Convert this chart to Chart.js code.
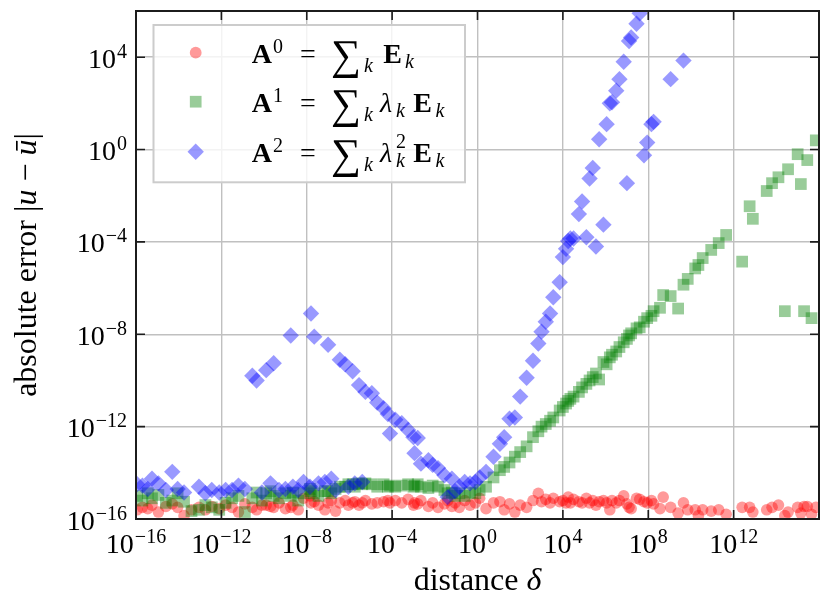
<!DOCTYPE html>
<html>
<head>
<meta charset="utf-8">
<script src="https://cdn.jsdelivr.net/npm/chart.js@4.4.1/dist/chart.umd.min.js"></script>
<style>
html,body{margin:0;padding:0;background:#ffffff;}
canvas{display:block;}
</style>
</head>
<body>
<canvas id="c" width="830" height="607"></canvas>
<script>
// ---------- data ----------
const distance = [
 1.12e-16, 2.0e-16, 3.55e-16, 5.62e-16, 1.12e-15, 2.51e-15, 5.01e-15, 8.91e-15, 1.78e-14, 3.98e-14,
 8.91e-14, 1.78e-13, 3.55e-13, 7.94e-13, 1.58e-12, 3.16e-12, 6.31e-12, 1.26e-11, 2.82e-11, 4.47e-11,
 7.94e-11, 1.26e-10, 2.0e-10, 2.82e-10, 5.01e-10, 1e-9, 1.78e-9, 2.24e-9, 3.98e-9, 7.08e-9,
 1.41e-8, 1.58e-8, 2.24e-8, 3.55e-8, 7.08e-8, 1e-7, 1.41e-7, 2.24e-7, 3.55e-7, 6.31e-7,
 8.91e-7, 1.41e-6, 1.78e-6, 2.82e-6, 3.98e-6, 5.62e-6, 1.12e-5, 2.0e-5, 3.98e-5, 6.31e-5,
 7.94e-5, 1.41e-4, 2.82e-4, 5.62e-4, 1e-3, 1.12e-3, 1.58e-3, 2.24e-3, 5.01e-3, 7.94e-3,
 1.41e-2, 2.82e-2, 3.98e-2, 6.31e-2, 8.91e-2, 0.141, 0.251, 0.447, 0.794, 1.26,
 2.51, 5.62, 11.2, 17.8, 31.6, 56.2, 100, 200, 398, 708,
 1000, 1580, 2510, 3550, 7080, 1e4, 1.41e4, 1.78e4, 2.24e4, 3.16e4,
 5.62e4, 7.94e4, 1.26e5, 1.78e5, 2.51e5, 3.55e5, 5.01e5, 7.94e5, 1.12e6, 1.58e6,
 2.0e6, 3.16e6, 4.47e6, 7.08e6, 1e7, 1.26e7, 1.58e7, 2.82e7, 3.98e7, 6.31e7,
 8.91e7, 1.41e8, 1.78e8, 3.55e8, 5.01e8, 1.12e9, 2.51e9, 4.47e9, 7.08e9, 1.58e10,
 2.24e10, 3.55e10, 8.91e10, 2.0e11, 4.47e11, 2.51e12, 5.62e12, 7.94e12, 3.55e13, 6.31e13,
 1.26e14, 2.51e14, 3.55e14, 1e15, 1.41e15, 2.0e15, 2.82e15, 4.47e15, 7.08e15
];

// A^0 = sum_k E_k
const errA0 = [
 2.5e-16, 3.2e-16, 2.8e-16, 4.0e-16, 2.0e-16, 3.5e-16, 4.5e-16, 3.2e-16, 1.4e-16, 2.5e-16,
 3.2e-16, 2.5e-16, 3.5e-16, 2.8e-16, 4.0e-16, 3.2e-16, 2.0e-16, 4.5e-16, 3.2e-16, 2.5e-16,
 4.0e-16, 4.0e-16, 3.5e-16, 3.2e-16, 5.0e-16, 2.8e-16, 3.2e-16, 4.0e-16, 2.5e-16, 7.9e-16,
 1.0e-15, 5.0e-16, 5.6e-16, 4.0e-16, 2.5e-16, 5.0e-16, 6.3e-16, 2.2e-16, 5.0e-16, 6.3e-16,
 4.0e-16, 5.0e-16, 5.6e-16, 4.0e-16, 5.0e-16, 6.3e-16, 4.5e-16, 5.0e-16, 5.6e-16, 6.3e-16,
 5.0e-16, 6.3e-16, 5.0e-16, 7.1e-16, 4.0e-16, 5.0e-16, 4.5e-16, 6.3e-16, 3.5e-16, 5.0e-16,
 3.2e-16, 4.5e-16, 6.3e-16, 3.5e-16, 5.0e-16, 3.2e-16, 6.3e-16, 4.0e-16, 5.0e-16, 7.9e-16,
 2.8e-16, 5.0e-16, 5.6e-16, 2.5e-16, 4.5e-16, 2.0e-16, 4.0e-16, 3.2e-16, 6.3e-16, 1.3e-15,
 5.6e-16, 7.1e-16, 5.0e-16, 7.9e-16, 5.6e-16, 6.3e-16, 5.0e-16, 8.9e-16, 5.0e-16, 7.1e-16,
 5.6e-16, 5.0e-16, 7.9e-16, 5.0e-16, 6.3e-16, 4.0e-16, 5.6e-16, 6.3e-16, 5.0e-16, 2.5e-16,
 6.3e-16, 5.0e-16, 6.3e-16, 1.0e-15, 4.5e-16, 3.2e-16, 2.8e-16, 7.9e-16, 7.1e-16, 5.6e-16,
 5.0e-16, 6.3e-16, 4.5e-16, 2.8e-16, 8.9e-16, 3.2e-16, 1.8e-16, 5.0e-16, 2.5e-16, 2.5e-16,
 1.4e-16, 2.5e-16, 2.2e-16, 2.5e-16, 1.6e-16, 3.2e-16, 3.2e-16, 2.0e-16, 2.5e-16, 3.2e-16,
 4.0e-16, 1.4e-16, 2.0e-16, 3.2e-16, 1.8e-16, 3.5e-16, 3.5e-16, 1.6e-16, 3.2e-16
];

// A^1 = sum_k lambda_k E_k
const errA1 = [
 1.0e-15, 6.3e-16, 1.3e-15, 7.9e-16, 1.1e-15, 5.0e-16, 6.3e-16, 1.3e-15, 5.6e-16, 2.2e-16,
 2.5e-16, 4.0e-16, 3.2e-16, 2.5e-16, 5.0e-16, 7.9e-16, 1.0e-15, 2.0e-16, 7.9e-16, 1.4e-15,
 6.3e-16, 1.3e-15, 1.6e-15, 1.0e-15, 7.9e-16, 1.3e-15, 1.0e-15, 1.4e-15, 6.3e-16, 1.3e-15,
 2.0e-15, 1.6e-15, 1.3e-15, 1.0e-15, 1.6e-15, 1.6e-15, 1.3e-15, 2.0e-15, 2.5e-15, 2.5e-15,
 3.2e-15, 3.2e-15, 2.5e-15, 3.5e-15, 3.2e-15, 3.5e-15, 3.2e-15, 2.5e-15, 3.2e-15, 2.5e-15,
 2.8e-15, 2.5e-15, 2.8e-15, 3.2e-15, 2.5e-15, 2.8e-15, 3.2e-15, 2.5e-15, 2.2e-15, 2.8e-15,
 2.5e-15, 1.8e-15, 1.3e-15, 1.4e-15, 1.0e-15, 1.3e-15, 1.0e-15, 1.4e-15, 1.3e-15, 1.8e-15,
 2.5e-15, 6.3e-15, 1.3e-14, 1.8e-14, 2.8e-14, 5.0e-14, 7.9e-14, 1.4e-13, 3.5e-13, 6.3e-13,
 1.0e-12, 1.3e-12, 1.8e-12, 2.5e-12, 5.0e-12, 7.1e-12, 1.0e-11, 1.3e-11, 1.6e-11, 2.0e-11,
 3.2e-11, 5.0e-11, 7.1e-11, 1.0e-10, 1.4e-10, 2.0e-10, 1.1e-10, 6.3e-10, 5.0e-10, 1.0e-9,
 1.3e-9, 1.8e-9, 2.8e-9, 4.5e-9, 6.3e-9, 8.9e-9, 1.1e-8, 1.8e-8, 2.0e-8, 3.5e-8,
 5.0e-8, 6.3e-8, 1.0e-7, 1.4e-7, 5.0e-7, 4.5e-7, 1.3e-7, 1.4e-6, 2.5e-6, 7.1e-6,
 1.0e-5, 2.0e-5, 4.5e-5, 8.9e-5, 2.0e-4, 1.4e-5, 3.5e-3, 1.0e-3, 1.6e-2, 3.5e-2,
 6.3e-2, 1.0e-7, 0.14, 0.63, 3.2e-2, 1.0e-7, 0.35, 5.0e-8, 2.5
];

// A^2 = sum_k lambda_k^2 E_k   (null = above the visible range)
const errA2 = [
 3.2e-15, 2.8e-15, 2.0e-15, 5.6e-15, 3.5e-15, 1.8e-15, 1.1e-14, 2.0e-15, 1.4e-15, null,
 2.5e-15, 1.3e-15, 1.8e-15, 1.4e-15, 1.8e-15, 1.8e-15, 2.8e-15, 2.0e-15, 1.6e-10, 1.0e-10,
 1.4e-15, 2.8e-10, 3.5e-15, 5.6e-10, 1.8e-15, 2.0e-15, 8.9e-9, 2.5e-15, 1.8e-15, 4.0e-15,
 2.5e-15, 7.9e-8, 7.9e-9, 3.5e-15, 4.0e-15, 3.5e-9, 5.6e-15, 1.8e-15, 7.9e-10, 5.0e-10,
 2.5e-15, 2.5e-10, 3.5e-15, 6.3e-11, 4.0e-15, 3.2e-11, 2.8e-11, 1.1e-11, 6.3e-12, 3.5e-12,
 5.0e-13, 2.0e-12, 1.4e-12, 7.1e-13, 3.5e-13, 7.1e-14, 3.2e-13, 2.5e-14, 3.5e-14, 2.2e-14,
 1.6e-14, 7.9e-15, 8.9e-16, 5.6e-15, 1.6e-15, 2.5e-15, 4.0e-15, 3.5e-15, 4.0e-15, 6.3e-15,
 1.1e-14, 5.0e-14, 1.8e-13, 3.5e-13, 2.2e-12, 2.5e-12, 2.0e-11, 1.3e-10, 7.1e-10, 4.0e-9,
 1.3e-8, 3.5e-8, 7.9e-8, 4.0e-7, 1.8e-6, 2.2e-5, 5.0e-5, 1.1e-4, 1.4e-4, 1.4e-4,
 1.6e-3, 5.6e-3, 1.6e-4, 5.6e-2, 0.16, 6.3e-5, 2.8, 5.6e-4, 12.6, 100,
 112, 355, 1120, 6300, 3.5e-2, 5.0e4, 7.1e4, 2.8e5, 7.9e5, 0.56,
 2.0, 12.6, 15.8, null, null, 1120, null, 7100, null, null,
 null, null, null, null, null, null, null, null, null, null,
 null, null, null, null, null, null, null, null, null
];

const xTickValues = [1e-16, 1e-12, 1e-8, 1e-4, 1e0, 1e4, 1e8, 1e12];
const xTickExps   = ['\u221216', '\u221212', '\u22128', '\u22124', '0', '4', '8', '12'];
const yTickValues = [1e-16, 1e-12, 1e-8, 1e-4, 1e0, 1e4];
const yTickExps   = ['\u221216', '\u221212', '\u22128', '\u22124', '0', '4'];

const seriesColors = ['rgba(255,0,0,0.4)', 'rgba(0,128,0,0.4)', 'rgba(0,0,255,0.4)'];

// ---------- helpers ----------
const SERIF = '"Liberation Serif","DejaVu Serif",serif';
const F = (size, style) => (style ? style + ' ' : '') + size + 'px ' + SERIF;

function toPoints(ys) {
  const out = [];
  for (let i = 0; i < distance.length; i++) {
    if (ys[i] !== null) out.push({ x: distance[i], y: ys[i] });
  }
  return out;
}

function runsWidth(ctx, runs) {
  let w = 0;
  runs.forEach(r => { ctx.font = r.f; r.w = ctx.measureText(r.t).width; w += r.w + (r.gap || 0); });
  return w;
}
function drawRuns(ctx, runs, x, y, align) {
  const total = runsWidth(ctx, runs);
  let cx = align === 'center' ? x - total / 2 : (align === 'right' ? x - total : x);
  runs.forEach(r => {
    ctx.font = r.f;
    ctx.fillText(r.t, cx, y + (r.dy || 0));
    cx += r.w + (r.gap || 0);
  });
}
function seg(ctx, t, f, x, y) { ctx.font = f; ctx.fillText(t, x, y); }

// ---------- decoration plugin ----------
const decor = {
  id: 'decor',
  afterDraw(chart) {
    const { ctx, chartArea: a, scales } = chart;
    const xs = scales.x, ys = scales.y;
    ctx.save();

    // inward tick marks on all four sides
    ctx.strokeStyle = '#1c1c1c';
    ctx.lineWidth = 1.6;
    ctx.beginPath();
    xTickValues.forEach(v => {
      const px = xs.getPixelForValue(v);
      ctx.moveTo(px, a.bottom); ctx.lineTo(px, a.bottom - 9);
      ctx.moveTo(px, a.top); ctx.lineTo(px, a.top + 9);
    });
    yTickValues.forEach(v => {
      const py = ys.getPixelForValue(v);
      ctx.moveTo(a.left, py); ctx.lineTo(a.left + 9, py);
      ctx.moveTo(a.right, py); ctx.lineTo(a.right - 9, py);
    });
    ctx.stroke();

    // frame
    ctx.lineWidth = 2;
    ctx.strokeRect(a.left, a.top, a.right - a.left, a.bottom - a.top);

    // tick labels
    ctx.fillStyle = '#000';
    ctx.textBaseline = 'alphabetic';
    ctx.textAlign = 'left';
    xTickValues.forEach((v, i) => {
      const px = xs.getPixelForValue(v);
      drawRuns(ctx, [
        { t: '10', f: F(28), gap: 1 },
        { t: xTickExps[i], f: F(20), dy: -10 }
      ], px, 553, 'center');
    });
    yTickValues.forEach((v, i) => {
      const py = ys.getPixelForValue(v);
      drawRuns(ctx, [
        { t: '10', f: F(28), gap: 1 },
        { t: yTickExps[i], f: F(20), dy: -10 }
      ], 127, py + 10.5, 'right');
    });

    // axis titles
    drawRuns(ctx, [
      { t: 'distance ', f: F(32) },
      { t: '\u03b4', f: F(32, 'italic') }
    ], (a.left + a.right) / 2, 590, 'center');

    ctx.save();
    ctx.translate(36, (a.top + a.bottom) / 2);
    ctx.rotate(-Math.PI / 2);
    drawRuns(ctx, [
      { t: 'absolute error ', f: F(32) },
      { t: '|', f: F(32) },
      { t: 'u', f: F(32, 'italic') },
      { t: ' \u2212 ', f: F(32) },
      { t: '\u016b', f: F(32, 'italic') },
      { t: '|', f: F(32) }
    ], 0, 0, 'center');
    ctx.restore();

    // legend box
    const L = { x0: 153.5, y0: 25, x1: 465, y1: 182.3 };
    ctx.fillStyle = 'rgba(255,255,255,0.8)';
    ctx.fillRect(L.x0, L.y0, L.x1 - L.x0, L.y1 - L.y0);
    ctx.strokeStyle = '#cccccc';
    ctx.lineWidth = 2;
    ctx.strokeRect(L.x0, L.y0, L.x1 - L.x0, L.y1 - L.y0);

    const mx = 195.7, rowsY = [52.7, 101.7, 151.7];
    // markers
    ctx.fillStyle = seriesColors[0];
    ctx.beginPath(); ctx.arc(mx, rowsY[0], 5.9, 0, Math.PI * 2); ctx.fill();
    ctx.fillStyle = seriesColors[1];
    ctx.fillRect(mx - 5.85, rowsY[1] - 5.85, 11.7, 11.7);
    ctx.fillStyle = seriesColors[2];
    ctx.beginPath();
    ctx.moveTo(mx - 8.2, rowsY[2]); ctx.lineTo(mx, rowsY[2] - 8.2);
    ctx.lineTo(mx + 8.2, rowsY[2]); ctx.lineTo(mx, rowsY[2] + 8.2);
    ctx.closePath(); ctx.fill();

    // legend texts
    ctx.fillStyle = '#000';
    const sups = ['0', '1', '2'];
    rowsY.forEach((cy, i) => {
      const b = cy + 10.3;
      seg(ctx, 'A', F(28, 'bold'), 251.7, b);
      seg(ctx, sups[i], F(20), 273, b - 10);
      seg(ctx, '=', F(28), 300, b);
      seg(ctx, '\u2211', F(42), 331, b + 6);
      seg(ctx, 'k', F(20, 'italic'), 364, b + 9);
      if (i === 0) {
        seg(ctx, 'E', F(28, 'bold'), 383.3, b);
        seg(ctx, 'k', F(20, 'italic'), 405, b + 5);
      } else {
        seg(ctx, '\u03bb', F(28, 'italic'), 380, b);
        if (i === 2) seg(ctx, '2', F(20), 396, b - 14);
        seg(ctx, 'k', F(20, 'italic'), 396, b + 5);
        seg(ctx, 'E', F(28, 'bold'), 413.3, b);
        seg(ctx, 'k', F(20, 'italic'), 435.5, b + 5);
      }
    });

    ctx.restore();
  }
};

// ---------- chart ----------
const gridStyle = { color: '#c0c0c0', lineWidth: 1.4, drawTicks: false };

new Chart(document.getElementById('c'), {
  type: 'scatter',
  data: {
    datasets: [
      { label: 'A\u2070 = \u2211k Ek', data: toPoints(errA0), order: 3, clip: 0,
        pointStyle: 'circle', pointRadius: 5.8, pointBorderWidth: 0,
        pointBackgroundColor: seriesColors[0], backgroundColor: seriesColors[0] },
      { label: 'A\u00b9 = \u2211k \u03bbk Ek', data: toPoints(errA1), order: 2, clip: 0,
        pointStyle: 'rect', pointRadius: 8.3, pointBorderWidth: 0,
        pointBackgroundColor: seriesColors[1], backgroundColor: seriesColors[1] },
      { label: 'A\u00b2 = \u2211k \u03bbk\u00b2 Ek', data: toPoints(errA2), order: 1, clip: 0,
        pointStyle: 'rectRot', pointRadius: 8.2, pointBorderWidth: 0,
        pointBackgroundColor: seriesColors[2], backgroundColor: seriesColors[2] }
    ]
  },
  options: {
    responsive: false,
    animation: false,
    layout: { padding: { top: 11, right: 11, left: 0, bottom: 0 } },
    plugins: { legend: { display: false }, tooltip: { enabled: false } },
    scales: {
      x: {
        type: 'logarithmic', min: 1e-16, max: 1e16,
        afterBuildTicks: s => { s.ticks = xTickValues.map(v => ({ value: v })); },
        afterFit: s => { s.height = 88; },
        ticks: { display: false },
        grid: gridStyle,
        border: { display: false }
      },
      y: {
        type: 'logarithmic', min: 1e-16, max: 1e6,
        afterBuildTicks: s => { s.ticks = yTickValues.map(v => ({ value: v })); },
        afterFit: s => { s.width = 136; },
        ticks: { display: false },
        grid: gridStyle,
        border: { display: false }
      }
    }
  },
  plugins: [decor]
});
</script>
</body>
</html>
